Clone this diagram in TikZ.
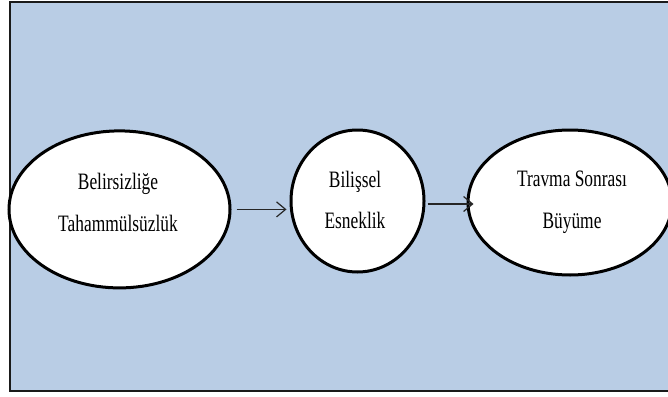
\documentclass[tikz,border=0pt]{standalone}
\usepackage{fontspec}
\usetikzlibrary{shapes.geometric,arrows.meta}
\newfontfamily\lblfont[FakeStretch=0.74]{Liberation Serif}
\definecolor{panelblue}{HTML}{B9CDE5}
\definecolor{framedark}{HTML}{1A1A1A}
\tikzset{
  oval/.style={ellipse, draw=black, fill=white, line width=3pt, inner sep=0pt},
  lbl/.style={anchor=base, inner sep=0pt, font=\lblfont\fontsize{23.5}{28}\selectfont},
  flow/.style={line width=1.5pt, draw=black!85, -{Straight Barb[length=9pt,width=15pt,line width=1.2pt]}}
}
\begin{document}
\begin{tikzpicture}[x=1pt,y=-1pt]
  \useasboundingbox (0,0) rectangle (668,396);
  % background panel
  \draw[fill=panelblue, draw=framedark, line width=2.2pt] (10,2) rectangle (690,391);

  % ovals
  \node[oval, minimum width=221pt, minimum height=157pt] (e1) at (119.5,209.4) {};
  \node[oval, minimum width=133pt, minimum height=142pt] (e2) at (357.5,201) {};
  \node[oval, minimum width=204pt, minimum height=145pt] (e3) at (570,202.5) {};

  % labels
  \node[lbl] (t1a) at (118,189) {Belirsizliğe};
  \node[lbl] (t1b) at (118,231) {Tahammülsüzlük};
  \node[lbl] (t2a) at (355,187) {Bilişsel};
  \node[lbl] (t2b) at (355,228) {Esneklik};
  \node[lbl] (t3a) at (572,186) {Travma Sonrası};
  \node[lbl] (t3b) at (572,228) {Büyüme};

  % connectors
  \draw[flow, shorten <=5pt, shorten >=3pt] (e1.east) -- (e1.east -| e2.west);
  \draw[flow, shorten <=2pt, shorten >=-7pt] ([yshift=-3pt]e2.east) -- ([yshift=-3pt]e2.east -| e3.west);
\end{tikzpicture}
\end{document}
